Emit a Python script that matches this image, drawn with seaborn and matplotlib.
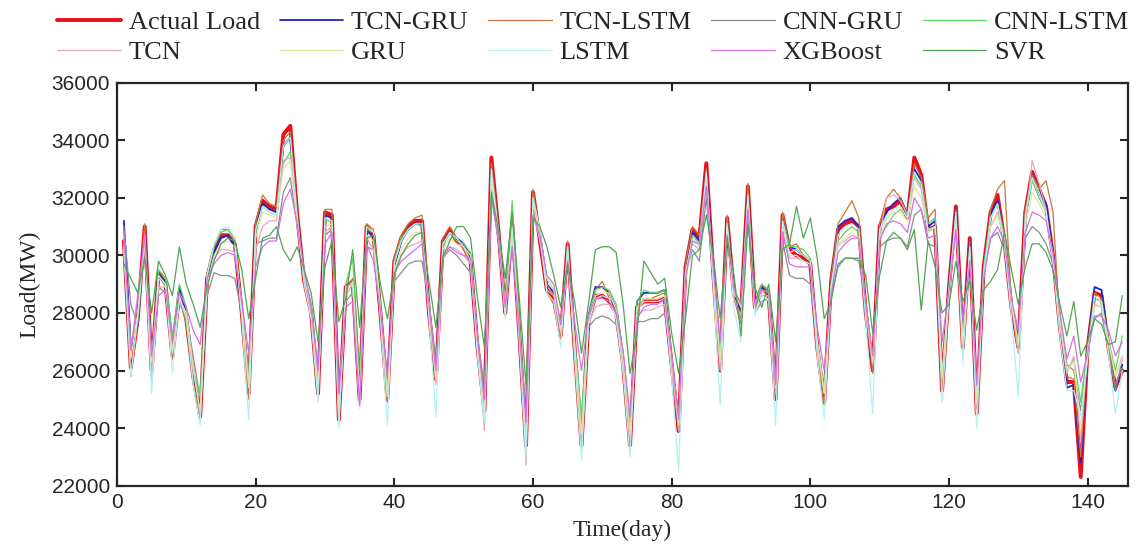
import numpy as np
import pandas as pd
import seaborn as sns
import matplotlib.pyplot as plt

days = list(range(1, 146))

actual = [30500, 26100, 27800, 31000, 26000, 29400, 29000, 26500, 28700, 27800,
          25800, 24400, 29200, 30200, 30700, 30700, 30400, 28000, 25200, 31000,
          31900, 31700, 31600, 34200, 34500, 31400, 29100, 28000, 25200, 31500,
          31400, 24300, 28900, 29100, 25000, 31000, 30700, 28000, 25000, 29800,
          30600, 31000, 31200, 31200, 28000, 25700, 30500, 30900, 30500, 30300,
          29800, 26800, 24600, 33400, 30900, 28000, 31100, 27400, 23400, 32200,
          30500, 28800, 28500, 27200, 30400, 26800, 23400, 27700, 28600, 28600,
          28400, 28000, 26200, 23400, 28200, 28400, 28400, 28400, 28500, 26200,
          23900, 29600, 30900, 30600, 33200, 29400, 26000, 31300, 28600, 28000,
          32400, 28200, 28900, 28600, 25000, 31400, 30200, 30000, 29900, 29700,
          26800, 24900, 29100, 30900, 31100, 31200, 31000, 28000, 26000, 31000,
          31600, 31700, 31900, 31300, 33400, 32800, 30900, 31000, 25300, 28900,
          31700, 26800, 30600, 24500, 29600, 31500, 32100, 30500, 28200, 26800,
          31500, 32900, 32300, 31700, 30000, 27500, 25600, 25600, 22300, 26800,
          28700, 28600, 26800, 25400, 26000]

tcn_gru = [31200, 26700, 27600, 30800, 26200, 29300, 29100, 26600, 28900, 28000,
           25900, 24500, 29100, 30100, 30600, 30700, 30300, 28100, 25400, 30900,
           31800, 31600, 31500, 33800, 34100, 31300, 29200, 28200, 25400, 31400,
           31300, 24500, 28800, 29100, 25200, 30900, 30600, 28100, 25200, 29600,
           30500, 30900, 31100, 31100, 28100, 25800, 30400, 30800, 30600, 30400,
           30000, 26900, 24800, 33000, 30800, 28100, 31000, 27500, 23600, 32000,
           30800, 29000, 28700, 27300, 30300, 26900, 23600, 27900, 28900, 28900,
           28700, 28100, 26300, 23600, 28400, 28700, 28700, 28700, 28800, 26300,
           24000, 29500, 30800, 30500, 32900, 29500, 26200, 31200, 28700, 28100,
           32200, 28300, 28900, 28700, 25200, 31300, 30300, 30200, 30000, 29800,
           26900, 25000, 29100, 31000, 31200, 31300, 31000, 28100, 26100, 30900,
           31500, 31800, 32000, 31400, 33000, 32600, 31000, 31200, 25500, 28900,
           31600, 26900, 30500, 24600, 29500, 31400, 31900, 30500, 28300, 26900,
           31300, 32800, 32200, 31800, 30100, 27600, 25400, 25500, 22800, 26900,
           28900, 28800, 26900, 25300, 26200]

tcn_lstm = [30400, 25800, 27700, 31100, 25900, 29300, 29000, 26400, 28600, 27600,
            25600, 24300, 29300, 30300, 30900, 30900, 30600, 28000, 25000, 31100,
            32100, 31800, 31700, 34000, 34300, 31500, 29000, 27900, 25100, 31600,
            31600, 24200, 28800, 29200, 24900, 31100, 30900, 28000, 24900, 29900,
            30700, 31100, 31300, 31400, 27900, 25600, 30600, 31000, 30600, 30200,
            29700, 26700, 24500, 33200, 31000, 27900, 31200, 27300, 23500, 32300,
            30600, 28700, 28300, 27100, 30500, 26700, 23500, 27800, 28800, 29100,
            28500, 27900, 26100, 23500, 28100, 28500, 28500, 28600, 28700, 26100,
            24000, 29700, 31000, 30700, 33000, 29300, 26100, 31400, 28500, 27800,
            32500, 28100, 29000, 28700, 25100, 31500, 30300, 30400, 30000, 29800,
            26700, 24800, 29200, 31100, 31500, 31900, 31300, 28100, 25900, 31100,
            32000, 32300, 32000, 31400, 33200, 32700, 31300, 31600, 25400, 28800,
            31600, 26700, 30500, 24400, 29500, 31600, 32300, 32600, 28400, 26700,
            31600, 32800, 32300, 32600, 31500, 27600, 25800, 25700, 23000, 26900,
            28700, 28500, 26800, 25500, 26100]

cnn_gru = [31000, 28300, 27600, 30500, 26600, 28900, 28700, 26800, 28300, 27900,
           26500, 25000, 28600, 29400, 29300, 29300, 29200, 28000, 26000, 30400,
           30500, 30600, 30600, 32200, 32700, 31000, 29400, 28300, 25900, 30700,
           30900, 25400, 28400, 28700, 26000, 30300, 30200, 28100, 25800, 29100,
           29400, 29700, 29800, 29800, 28400, 26300, 29900, 30200, 30000, 29700,
           29400, 27200, 25400, 32100, 30500, 28300, 30500, 27900, 24300, 31500,
           30600, 29000, 28600, 27700, 29800, 27200, 24200, 27500, 27800, 27900,
           27800, 27600, 26500, 24200, 27700, 27700, 27800, 27800, 28000, 26400,
           24400, 29400, 30200, 29800, 32000, 29100, 26600, 30800, 28500, 27600,
           31600, 28000, 28400, 28500, 25800, 30500, 29300, 29200, 29200, 29000,
           27000, 25400, 28600, 29600, 29900, 29900, 29800, 28300, 26400, 30300,
           30500, 30600, 30600, 30300, 31400, 31600, 30400, 30300, 25800, 28500,
           31200, 27000, 30000, 25000, 29300, 30600, 30800, 30200, 28400, 27000,
           30600, 31000, 30800, 30400, 29700, 27900, 26200, 26000, 24600, 26800,
           27800, 28000, 26700, 25300, 26400]

cnn_lstm = [30000, 27000, 27800, 30400, 26200, 29500, 29200, 27200, 29000, 28200,
            26000, 25100, 29300, 30300, 30800, 30900, 30500, 28200, 25600, 30800,
            31700, 31500, 31400, 33200, 33600, 31200, 29300, 28300, 25600, 31200,
            31200, 24600, 29000, 29900, 25300, 30900, 30800, 28300, 25300, 29800,
            30600, 30900, 31100, 31000, 28300, 25900, 30300, 30800, 30500, 30400,
            30100, 27000, 24900, 32800, 30900, 28400, 31900, 27700, 23800, 32000,
            30800, 29200, 28800, 27500, 30200, 27000, 24400, 27900, 28800, 28900,
            28800, 28300, 26600, 24000, 28400, 28800, 28700, 28700, 28800, 26500,
            24100, 29300, 30700, 30400, 32600, 29500, 26500, 31000, 28800, 28300,
            32000, 28300, 29000, 28800, 25300, 31200, 30300, 30300, 30200, 29900,
            27000, 25300, 29000, 30500, 30800, 31000, 30800, 28300, 26200, 30700,
            31000, 31400, 31600, 31300, 32800, 32400, 31100, 31300, 25700, 29000,
            31300, 27200, 30100, 25000, 29600, 31300, 31800, 30700, 28500, 26600,
            31200, 32600, 32000, 31500, 30000, 27800, 26000, 26400, 24900, 26800,
            28500, 28400, 27100, 26000, 27200]

tcn = [30600, 26600, 28700, 30300, 25700, 28900, 28900, 26700, 28400, 27900,
       26200, 24400, 28900, 29900, 30200, 30200, 30100, 28300, 25500, 30200,
       31000, 31200, 31200, 33300, 33400, 31200, 29300, 28000, 25300, 30800,
       31000, 24200, 28600, 29000, 24700, 30600, 30200, 28000, 25100, 29400,
       30000, 30300, 30400, 30500, 28200, 25500, 29900, 30300, 30200, 30000,
       29700, 26900, 23900, 32600, 30600, 28100, 30600, 27400, 22700, 31500,
       30500, 28800, 28600, 27300, 29900, 26900, 23400, 27600, 28200, 28300,
       28300, 27900, 26200, 23600, 27900, 28100, 28100, 28200, 28300, 26200,
       23900, 29300, 30400, 30200, 32800, 29200, 26000, 30900, 28500, 27900,
       31900, 28100, 28600, 28600, 25200, 30800, 29900, 29900, 29800, 29700,
       26800, 25200, 28900, 30400, 30500, 30700, 30600, 28100, 26200, 30700,
       32000, 32100, 31900, 31400, 32700, 32300, 30800, 31000, 25700, 28700,
       31300, 26900, 30200, 24800, 29300, 31000, 31500, 30400, 28300, 26600,
       31000, 33300, 32500, 31600, 29800, 27600, 25900, 26500, 23600, 26700,
       28300, 28200, 27000, 25800, 26500]

gru = [30300, 26400, 28000, 30600, 26300, 29200, 28900, 26600, 28500, 28000,
       26000, 24600, 29000, 30000, 30400, 30500, 30300, 28200, 25400, 30600,
       31500, 31400, 31300, 33000, 33300, 31100, 29200, 28200, 25400, 31000,
       31100, 24500, 28700, 29100, 25100, 30700, 30500, 28200, 25100, 29500,
       30200, 30600, 30800, 30800, 28200, 25700, 30200, 30600, 30400, 30300,
       30000, 27000, 24400, 32700, 30700, 28200, 30800, 27600, 23500, 31800,
       30700, 29200, 28800, 27400, 30100, 26900, 23800, 27800, 28600, 28700,
       28700, 28100, 26400, 23800, 28200, 28500, 28500, 28500, 28600, 26400,
       24100, 29400, 30600, 30400, 32500, 29300, 26300, 31000, 28700, 28200,
       31900, 28300, 28800, 28700, 25400, 31000, 30100, 30200, 30000, 29800,
       27000, 25200, 28900, 30300, 30600, 30800, 30600, 28200, 26300, 30600,
       31300, 31500, 31500, 31200, 32400, 32000, 30900, 31000, 25800, 28800,
       31200, 27000, 30100, 24900, 29400, 31000, 31400, 30600, 28400, 26900,
       31000, 32200, 31800, 31300, 30000, 27700, 26000, 26300, 24000, 26700,
       28200, 28300, 27000, 25800, 26400]

lstm = [30200, 25800, 27900, 30700, 25200, 29300, 29000, 25900, 28600, 27800,
        25500, 24100, 29300, 30400, 30900, 31000, 30600, 27800, 24300, 30900,
        31700, 31500, 31400, 33800, 34100, 31300, 29000, 27800, 24900, 31300,
        31200, 24000, 28900, 29000, 24700, 31000, 30800, 27800, 24100, 29700,
        30500, 30900, 31100, 31100, 27800, 24400, 30400, 30800, 30600, 30300,
        29800, 26500, 24200, 33000, 30800, 27800, 31000, 27100, 23000, 32000,
        30900, 28700, 28400, 26800, 30300, 26500, 22900, 27600, 28500, 28600,
        28500, 27800, 25900, 23000, 28100, 28400, 28400, 28400, 28500, 25800,
        22500, 29100, 30500, 30300, 32900, 29000, 24800, 31100, 28100, 27000,
        32100, 27900, 28800, 28400, 24100, 31200, 30000, 30000, 29800, 29700,
        26500, 24300, 28800, 30700, 31000, 31100, 30900, 27700, 24500, 30900,
        31400, 31600, 31700, 31300, 32900, 32500, 30800, 31000, 24900, 28600,
        31500, 26300, 30300, 24000, 29300, 31300, 31800, 30400, 27900, 25100,
        31400, 32700, 32200, 31500, 29800, 27200, 25300, 25300, 24400, 26400,
        28600, 28400, 26600, 24500, 26000]

xgboost = [30800, 26700, 28500, 30700, 26500, 28600, 28800, 27000, 28700, 28200,
           27400, 26900, 29200, 29700, 30000, 30100, 30000, 28400, 26600, 29600,
           30300, 30500, 30500, 31800, 32300, 31100, 29500, 28200, 26000, 30400,
           30800, 25200, 28200, 28400, 24800, 30400, 29800, 28100, 25800, 29400,
           29800, 30000, 30200, 30400, 28300, 26000, 30000, 30300, 30100, 30000,
           29900, 27100, 25000, 32000, 30600, 28200, 30300, 27500, 24200, 31400,
           30700, 29300, 29000, 27600, 29800, 27700, 26000, 27900, 28500, 28500,
           28400, 28000, 26700, 24400, 27800, 28200, 28300, 28300, 28500, 26500,
           24300, 29200, 30500, 30400, 32400, 29600, 27000, 30700, 28800, 28300,
           31600, 28300, 28800, 28700, 25500, 30800, 29700, 29600, 29600, 29600,
           27500, 26000, 28600, 30100, 30400, 30600, 30600, 28300, 26500, 30500,
           31100, 31200, 31100, 30800, 32000, 31600, 30600, 30700, 27000, 28800,
           30900, 27700, 29800, 25500, 29200, 30600, 31000, 30500, 28500, 27400,
           30800, 31500, 31400, 31200, 30100, 28000, 26400, 27200, 25600, 26600,
           27900, 27900, 27400, 26500, 27000]

svr = [29700, 29200, 28700, 29900, 28000, 29800, 29300, 28600, 30300, 29000,
       28300, 27500, 28900, 29800, 30400, 30600, 30500, 29500, 27800, 29200,
       30600, 30700, 31000, 30200, 29800, 30300, 29500, 28700, 27000, 29600,
       30500, 27700, 28500, 30200, 27500, 30600, 30700, 29000, 27800, 29300,
       30000, 30400, 30700, 30800, 29100, 27500, 29900, 30500, 31000, 31000,
       30600, 28500, 26800, 32200, 30900, 29200, 31500, 28600, 25500, 31300,
       31000, 30300, 29300, 28200, 29700, 28400, 26600, 28300, 30200, 30300,
       30300, 30100, 28300, 25900, 27300, 29800, 29400, 29000, 29200, 27300,
       25900, 27800, 30000, 30200, 31400, 30000, 27800, 30600, 29300, 27200,
       31100, 28900, 28200, 29000, 27000, 30200, 30400, 31700, 30600, 31300,
       29900, 27800, 28400, 29700, 29900, 29900, 29900, 29300, 27300, 29300,
       30500, 30800, 30600, 30200, 30900, 28100, 30500, 29600, 28000, 28300,
       29800, 28400, 29100, 27400, 28800, 29100, 29500, 30800, 29500, 28300,
       29600, 30400, 30400, 30100, 29500, 28300, 27200, 28400, 26500, 27000,
       27800, 27600, 26900, 27000, 28600]

series = [
    ("Actual Load", actual, "#e8101a", 2.8),
    ("TCN-GRU", tcn_gru, "#2020d0", 1.3),
    ("TCN-LSTM", tcn_lstm, "#c8763c", 0.9),
    ("CNN-GRU", cnn_gru, "#8c8c8c", 0.9),
    ("CNN-LSTM", cnn_lstm, "#5cd65c", 0.9),
    ("TCN", tcn, "#eaa6bf", 0.9),
    ("GRU", gru, "#e4e4a0", 0.9),
    ("LSTM", lstm, "#b4f0f0", 0.9),
    ("XGBoost", xgboost, "#d66ee6", 0.9),
    ("SVR", svr, "#52a452", 0.9),
]

sns.set_style("ticks")
plt.rcParams["font.family"] = ["Liberation Serif", "DejaVu Serif"]

fig = plt.figure(figsize=(11.41, 5.55), dpi=100)
ax = fig.add_axes([0.1025, 0.125, 0.886, 0.726])

for name, vals, color, lw in series:
    sns.lineplot(x=days, y=vals, color=color, linewidth=lw, label=name, ax=ax)

ax.set_xlim(0, 145.8)
ax.set_ylim(22000, 36000)
ax.set_xticks(range(0, 141, 20))
ax.set_yticks(range(22000, 36001, 2000))
for lab in ax.get_xticklabels() + ax.get_yticklabels():
    lab.set_fontfamily("Liberation Sans")
    lab.set_fontsize(15)
ax.tick_params(direction="in", length=6, width=1.5, top=True, right=True, pad=5)
for sp in ax.spines.values():
    sp.set_linewidth(1.6)
    sp.set_visible(True)

ax.set_xlabel("Time(day)", fontsize=17, labelpad=6)
ax.set_ylabel("Load(MW)", fontsize=17, labelpad=8)

# legend reads row by row in the reference: reorder for matplotlib's column filling
handles, labels = ax.get_legend_handles_labels()
ax.get_legend().remove()
order = [0, 5, 1, 6, 2, 7, 3, 8, 4, 9]
fig.legend([handles[i] for i in order], [labels[i] for i in order],
           ncol=5, frameon=False, fontsize=19, loc="upper center",
           bbox_to_anchor=(0.52, 1.005), handlelength=2.4, handletextpad=0.3,
           columnspacing=0.75, borderaxespad=0.1, labelspacing=0.25)

fig.savefig("out.png", dpi=100)
